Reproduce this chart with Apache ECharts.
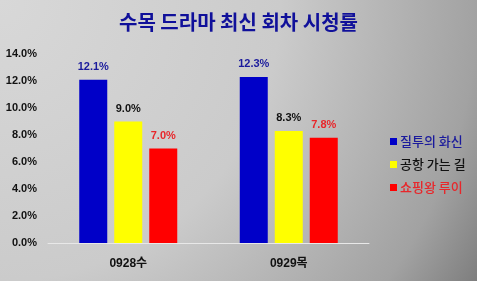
<!DOCTYPE html>
<html><head><meta charset="utf-8">
<script src="https://cdn.jsdelivr.net/npm/echarts@6/dist/echarts.min.js"></script>
<style>html,body{margin:0;padding:0;}#c{width:477px;height:281px;}</style>
</head><body><div id="c"></div>
<script>
const titleText = '수목 드라마 최신 회차 시청률';
const categories = ['0928수', '0929목'];
const seriesNames = ['질투의 화신', '공항 가는 길', '쇼핑왕 루이'];
const jealousy = [12.1, 12.3];
const airport = [9.0, 8.3];
const shopping = [7.0, 7.8];
const yMax = 14, yStep = 2;

const barColors = ['#0000c8', '#ffff00', '#ff0000'];
const textColors = ['#1a1a9c', '#111111', '#e8262a'];
const FONT = '"Liberation Sans", "Noto Sans CJK KR", sans-serif';
const values = [jealousy, airport, shopping];

const chart = echarts.init(document.getElementById('c'));
chart.setOption({
  backgroundColor: {
    type: 'radial', x: 0, y: 0, r: 2,
    colorStops: [
      {offset: 0, color: '#d8d8d8'},
      {offset: 0.5, color: '#cbcbcb'},
      {offset: 0.85, color: '#a2a2a2'},
      {offset: 1, color: '#7a7a7a'}
    ]
  },
  title: {
    text: titleText, left: 'center', top: 7,
    textStyle: {fontFamily: '"Noto Sans CJK KR", sans-serif', fontSize: 20, fontWeight: 'bold', color: '#10109a'}
  },
  legend: {
    orient: 'vertical', left: 385, top: 130, itemWidth: 7, itemHeight: 7, itemGap: 10,
    icon: 'rect',
    data: seriesNames.map((n, i) => ({name: n, textStyle: {color: textColors[i]}})),
    textStyle: {fontFamily: '"Noto Sans CJK KR", sans-serif', fontSize: 13, fontWeight: 500, padding: [0, 0, 0, -2]}
  },
  grid: {left: 48, right: 108, top: 54, bottom: 38},
  xAxis: {
    type: 'category', data: categories,
    axisLine: {lineStyle: {color: '#e8e8e8', width: 1}},
    axisTick: {show: false},
    axisLabel: {margin: 15, fontFamily: FONT, fontSize: 12, fontWeight: 'bold', color: '#111'}
  },
  yAxis: {
    type: 'value', min: 0, max: yMax, interval: yStep,
    splitLine: {show: false},
    axisLine: {show: false}, axisTick: {show: false},
    axisLabel: {margin: 11, fontFamily: FONT, fontSize: 11, fontWeight: 'bold', color: '#111',
      formatter: v => v.toFixed(1) + '%'}
  },
  series: values.map((vals, i) => ({
    name: seriesNames[i], type: 'bar', data: vals,
    barWidth: 28, barGap: '25%',
    itemStyle: {color: barColors[i]},
    label: {show: true, position: 'top', distance: 7, fontFamily: FONT, fontSize: 11, fontWeight: 'bold',
      color: textColors[i], formatter: p => p.value.toFixed(1) + '%'}
  }))
});
</script></body></html>
